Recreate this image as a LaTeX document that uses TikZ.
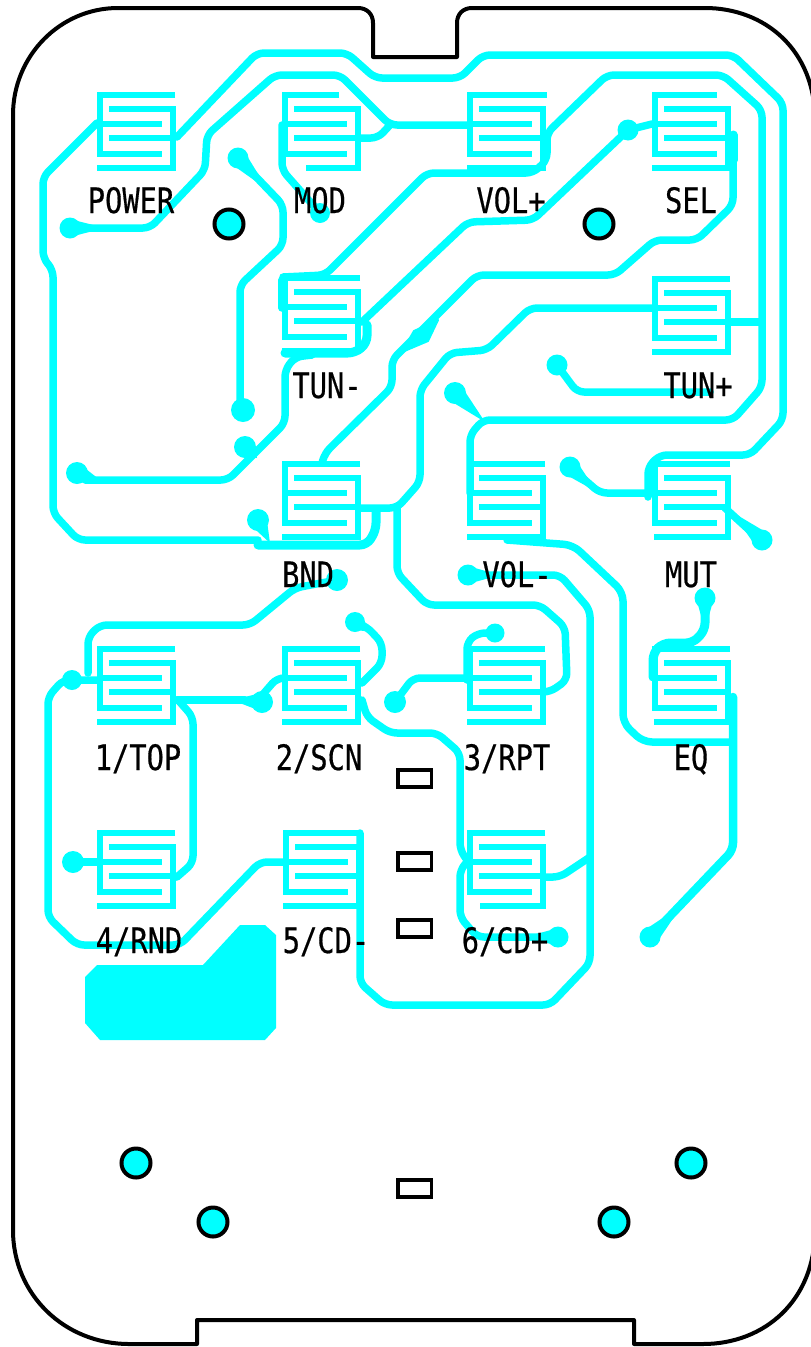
\documentclass[tikz,border=0pt]{standalone}
\usepackage{fontspec}
\setmainfont[FakeStretch=0.82,FakeBold=0.5]{DejaVu Sans Mono}
\usetikzlibrary{calc}
\definecolor{trk}{RGB}{0,255,255}
\tikzset{
 trace/.style={draw=trk,line width=7.5pt,line join=round,line cap=round,rounded corners=7pt},
 comb/.style={draw=trk,line width=6.5pt,line join=miter},
 outline/.style={draw=black,line width=4pt,line join=round},
 slot/.style={draw=black,line width=3.6pt,fill=white},
 hole/.style={draw=black,line width=4pt,fill=trk},
 lbl/.style={anchor=base,inner sep=0pt,font=\fontsize{35}{35}\selectfont,text=black}
}
% #1,#2 = top-left corner; #3 = end of top bar; #4 = start of bottom bar
\newcommand\padd[4]{%
 \begin{scope}[shift={(#1,#2)}]
  \draw[comb] (#3,3)--(3,3)--(3,62)--(65,62) (3,32)--(65,32);
  \draw[comb] (12,17)--(76,17)--(76,76)--(#4,76) (12,46)--(76,46);
 \end{scope}}
% dot with a taper towards a point on its track
\newcommand\tear[4]{%
 \fill[trk] (#1,#2) circle (#3);
 \fill[trk] ($(#1,#2)!0.85*#3!90:(#4)$) -- (#4) -- ($(#1,#2)!0.85*#3!-90:(#4)$) -- cycle;}
\begin{document}
\begin{tikzpicture}[x=1pt,y=-1pt]
\useasboundingbox (0,0) rectangle (811,1347);
\clip (0,0) rectangle (811,1347);
\fill[white] (0,0) rectangle (811,1347);
% board outline
\draw[outline] (13,115) .. controls (13,56) and (60,8) .. (118,8) -- (358,8)
  .. controls (367,8) and (373,14) .. (373,23) -- (373,57) -- (457,57) -- (457,23)
  .. controls (457,14) and (463,8) .. (472,8) -- (705,8)
  .. controls (765,8) and (815,50) .. (815,120) -- (815,1230)
  .. controls (815,1300) and (765,1344) .. (703,1344) -- (634,1344) -- (634,1320)
  -- (197,1320) -- (197,1344) -- (129,1344)
  .. controls (65,1344) and (13,1295) .. (13,1230) -- cycle;
% pads
\padd{97}{92}{78}{0}
\padd{282}{92}{57}{24}
\padd{467}{92}{80}{0}
\padd{652}{92}{65}{0}
\padd{282}{275}{78}{0}
\padd{652}{276}{78}{0}
\padd{282}{461}{78}{0}
\padd{467}{461}{78}{0}
\padd{652}{461}{78}{2}
\padd{97}{646}{78}{0}
\padd{282}{646}{78}{0}
\padd{467}{646}{78}{0}
\padd{652}{646}{78}{2}
\padd{97}{830}{78}{0}
\padd{283}{830}{78}{0}
\padd{467}{830}{78}{13}
% tracks
\draw[trace] (97,123)--(43,177)--(43,258)--(53,270)--(53,513)--(78,540)--(258,540);
\draw[trace,line width=9pt] (258,545)--(367,545)--(376,530)--(376,510);
\draw[trace] (360,508)--(397,508)--(420,482)--(420,390)--(450,353)--(487,350)--(530,308)--(653,308);
\draw[trace] (730,322)--(762,322);
\draw[trace] (397,508)--(397,573)--(427,605)--(540,605)--(565,627)--(567,680)--(550,692)--(545,692);
\draw[trace] (70,228)--(150,228)--(205,170)--(207,135)--(275,75)--(340,75)--(390,125)--(467,125);
\draw[trace] (360,138)--(378,138)--(390,125);
\draw[trace] (177,137)--(257,53)--(347,53)--(375,78)--(460,78)--(483,55)--(733,55)--(783,103)--(783,420)--(750,455)--(660,455)--(648,467)--(648,497);
\draw[trace] (650,493)--(600,493)--(570,467);
\draw[trace] (238,158)--(283,205)--(283,245)--(240,285)--(240,410);
\draw[trace] (282,125)--(282,170)--(320,213);
\draw[trace] (282,280)--(282,308);
\draw[trace] (283,277)--(325,275)--(427,173)--(533,173)--(547,160)--(547,133)--(607,75)--(723,75)--(762,110)--(762,387)--(733,420)--(483,420)--(470,435)--(470,493);
\draw[trace] (362,322)--(468,222)--(533,220)--(628,130)--(652,124);
\draw[trace,line width=9pt] (285,353)--(355,353)--(367,343)--(367,325);
\draw[trace] (312,355)--(295,357)--(285,370)--(285,423)--(228,480)--(85,480);
\draw[trace,line width=9pt] (733,135)--(733,160);
\draw[trace] (733,135)--(733,205)--(697,240)--(655,240)--(615,275)--(477,275)--(392,360)--(392,387)--(325,453)--(322,463);
\draw[trace] (557,365)--(577,392)--(710,392);
\draw[trace,rounded corners=9pt] (507,540)--(573,545)--(623,592)--(623,723)--(643,742)--(733,742);
\draw[trace,line width=8.5pt] (733,697)--(733,850)--(650,937);
\draw[trace,line width=9pt] (653,677)--(653,653)--(663,643)--(693,643)--(705,630)--(705,598);
\draw[trace] (468,575)--(560,575)--(590,610)--(590,963)--(550,1005)--(385,1005)--(360,983)--(360,833);
\draw[trace] (545,877)--(560,877)--(590,857);
\draw[trace] (337,580)--(295,588)--(250,625)--(100,625)--(88,637)--(88,673);
\draw[trace] (97,680)--(63,680)--(48,697)--(48,917)--(77,945)--(180,945)--(260,862)--(283,862);
\draw[trace] (177,700)--(245,700);
\draw[trace] (258,700)--(277,678)--(283,678);
\draw[trace] (178,700)--(193,717)--(193,863)--(177,877);
\draw[trace] (73,862)--(97,862);
\draw[trace] (362,683)--(382,663)--(382,643)--(367,627)--(355,622);
\draw[trace] (362,700)--(367,717)--(390,733)--(437,733)--(460,753)--(460,850)--(467,860);
\draw[trace] (467,862)--(460,870)--(460,917)--(477,937)--(558,937);
\draw[trace] (395,702)--(413,678)--(467,678);
\draw[trace] (495,633)--(478,633)--(467,642)--(467,680);
\draw[trace] (725,508)--(760,540);
% dots
\tear{70}{228}{10.5pt}{105,228}
\tear{238}{158}{10.5pt}{268,190}
\fill[trk] (320,213) circle (10pt);
\fill[trk] (243,410) circle (12pt);
\tear{245}{447}{11pt}{257,458}
\tear{77}{473}{11pt}{100,480}
\tear{258}{520}{11pt}{270,543}
\fill[trk] (337,580) circle (11pt);
\tear{355}{622}{10pt}{372,632}
\fill[trk] (72,680) circle (10pt);
\tear{262}{702}{11pt}{232,700}
\fill[trk] (395,702) circle (11pt);
\fill[trk] (495,633) circle (9.5pt);
\fill[trk] (73,862) circle (11pt);
\tear{558}{937}{10.5pt}{525,937}
\tear{650}{937}{10.5pt}{682,905}
\tear{705}{598}{10.5pt}{705,630}
\tear{468}{575}{10.5pt}{500,575}
\tear{455}{393}{11pt}{485,422}
\fill[trk] (557,365) circle (10.5pt);
\tear{570}{467}{10.5pt}{597,492}
\tear{762}{540}{10.5pt}{732,512}
\fill[trk] (628,130) circle (10.5pt);
\fill[trk,draw=trk,line width=2pt,line join=round] (402,352)--(414,331)--(438,320)--(428,341)--cycle;
% filled area
\fill[trk] (85,977)--(97,965)--(203,965)--(240,925)--(265,925)--(276,935)--(276,1028)--(265,1040)--(100,1040)--(85,1023)--cycle;
% mounting holes
\foreach \hx/\hy in {229/224,599/224,136/1163,213/1222,614/1222,691/1163}
  \draw[hole] (\hx,\hy) circle (14.5pt);
% slots
\foreach \sy in {770,853,920,1180}
  \draw[slot] (398,\sy) rectangle (431.5,\sy+17);
% labels
\node[lbl] (power) at (131,213) {POWER};
\node[lbl] (mod) at (320,213) {MOD};
\node[lbl] (volp) at (511,213) {VOL+};
\node[lbl] (sel) at (691,213) {SEL};
\node[lbl] (tunm) at (327,398) {TUN-};
\node[lbl] (tunp) at (698,398) {TUN+};
\node[lbl] (bnd) at (308,587) {BND};
\node[lbl] (volm) at (517,587) {VOL-};
\node[lbl] (mut) at (691,587) {MUT};
\node[lbl] (top) at (138,770) {1/TOP};
\node[lbl] (scn) at (319,770) {2/SCN};
\node[lbl] (rpt) at (507,770) {3/RPT};
\node[lbl] (eq) at (691,770) {EQ};
\node[lbl] (rnd) at (139,953) {4/RND};
\node[lbl] (cdm) at (326,953) {5/CD-};
\node[lbl] (cdp) at (505,953) {6/CD+};
\end{tikzpicture}
\end{document}
